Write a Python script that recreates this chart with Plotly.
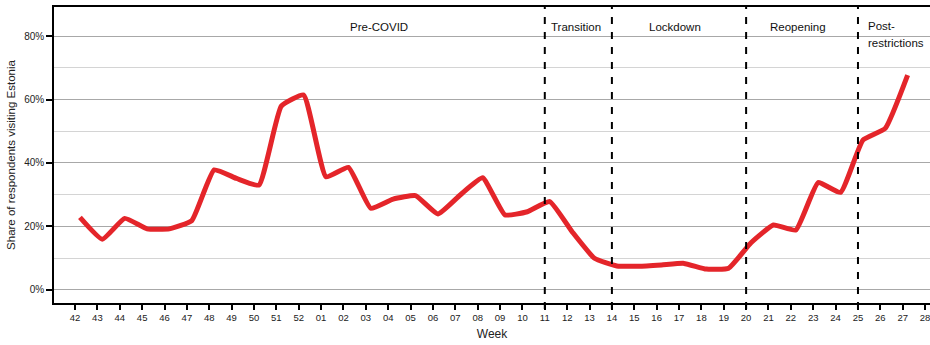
import numpy as np
import plotly.graph_objects as go

week_labels = ['42', '43', '44', '45', '46', '47', '48', '49', '50', '51', '52',
               '01', '02', '03', '04', '05', '06', '07', '08', '09', '10', '11',
               '12', '13', '14', '15', '16', '17', '18', '19', '20', '21', '22',
               '23', '24', '25', '26', '27', '28']
share_weeks = week_labels[:-1]
share_values = [22.8, 15.9, 22.5, 19.2, 19.2, 21.8, 37.8, 35.1, 33.0, 57.9, 61.4,
                35.6, 38.6, 25.7, 28.6, 29.7, 23.9, 29.9, 35.3, 23.6, 24.6, 27.8,
                18.3, 9.9, 7.5, 7.4, 7.8, 8.3, 6.5, 6.8, 14.8, 20.4, 18.8,
                33.8, 30.7, 47.2, 50.9, 67.7]
phase_breaks = ['11', '14', '20', '25']
phase_labels = ['Pre-COVID', 'Transition', 'Lockdown', 'Reopening']
phase_label_pos = [13.6, 22.4, 26.8, 32.3]
post_label_lines = ['Post-', 'restrictions']
post_label_pos = 35.4

FONT = "Liberation Sans, Arial, sans-serif"
tick_idx = np.arange(len(week_labels))
within_week = 0.22
x_vals = np.array([week_labels.index(w) for w in share_weeks]) + within_week

fig = go.Figure()
fig.add_trace(go.Scatter(
    x=x_vals, y=share_values, mode='lines',
    line=dict(color='#e4252a', width=5, shape='spline', smoothing=0.4),
    hoverinfo='skip', showlegend=False))

shapes = []
for w in phase_breaks:
    xi = week_labels.index(w)
    shapes.append(dict(type='line', xref='x', yref='paper', x0=xi, x1=xi, y0=-0.02, y1=1,
                       line=dict(color='black', width=2, dash='7px,8px')))

annotations = []
for lab, pos in zip(phase_labels, phase_label_pos):
    annotations.append(dict(x=pos, y=83.0, xref='x', yref='y', text=lab, showarrow=False,
                            xanchor='center', yanchor='middle',
                            font=dict(family=FONT, size=11.5, color='#111')))
for lab, yv in zip(post_label_lines, [83.3, 77.8]):
    annotations.append(dict(x=post_label_pos, y=yv, xref='x', yref='y', text=lab, showarrow=False,
                            xanchor='left', yanchor='middle', borderpad=0,
                            font=dict(family=FONT, size=11.5, color='#111')))

fig.update_layout(
    width=930, height=345,
    margin=dict(l=54, r=0, t=7, b=42, autoexpand=False),
    paper_bgcolor='white', plot_bgcolor='white',
    font=dict(family=FONT, color='#222'),
    shapes=shapes, annotations=annotations,
    xaxis=dict(
        range=[-0.94, 38.22], tickmode='array', tickvals=tick_idx, ticktext=week_labels,
        ticks='outside', ticklen=5, tickwidth=1.5, tickcolor='black',
        showline=True, linecolor='black', linewidth=1.5, mirror=True,
        showgrid=False, zeroline=False, ticklabeloverflow='allow',
        tickfont=dict(family=FONT, size=9.5, color='#222'),
        title=dict(text='Week', font=dict(family=FONT, size=12, color='#222'), standoff=7),
    ),
    yaxis=dict(
        range=[-4.2, 89.2], tickmode='array', tickvals=[0, 20, 40, 60, 80],
        ticktext=['0%', '20%', '40%', '60%', '80%'],
        ticks='outside', ticklen=6, tickwidth=1.5, tickcolor='black',
        showline=True, linecolor='black', linewidth=1.5,
        showgrid=True, gridcolor='#a8a8a8', gridwidth=1, zeroline=False,
        minor=dict(tickvals=[10, 30, 50, 70], showgrid=True, gridcolor='#d4d4d4', gridwidth=1, ticks=''),
        tickfont=dict(family=FONT, size=10, color='#222'),
        title=dict(text='Share of respondents visiting Estonia',
                   font=dict(family=FONT, size=11.5, color='#222'), standoff=6),
    ),
)

fig.write_html("out.html")
